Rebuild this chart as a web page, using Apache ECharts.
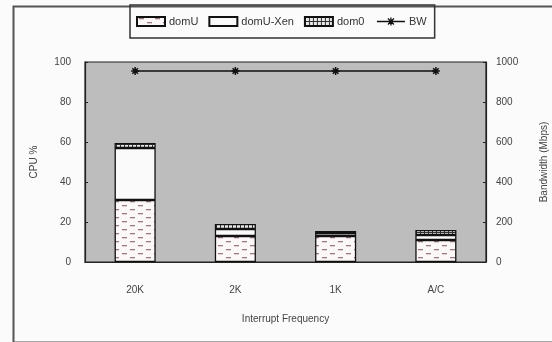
<!DOCTYPE html>
<html><head><meta charset="utf-8">
<script src="https://cdn.jsdelivr.net/npm/echarts@6/dist/echarts.min.js"></script>
<style>html,body{margin:0;padding:0;background:#fbfbfb}#c{width:552px;height:342px}</style>
</head><body><div id="c"></div>
<script>
var categories = ['20K', '2K', '1K', 'A/C'];
var domU = [31, 13, 13, 11];
var domUXen = [26, 3.5, 1.5, 2.5];
var dom0 = [2.5, 2.5, 1, 2.5];
var bw = [955, 955, 955, 955];
var cpuTicks = [0, 20, 40, 60, 80, 100];
var bwTicks = [0, 200, 400, 600, 800, 1000];

function dashPattern() {
  var c = document.createElement('canvas'); c.width = 16; c.height = 8;
  var g = c.getContext('2d');
  g.fillStyle = '#fdf8f8'; g.fillRect(0, 0, 16, 8);
  g.fillStyle = '#9a7a82';
  g.fillRect(2, 1, 5, 1.3);
  g.fillRect(10, 5, 5, 1.3);
  return c;
}
function gridPattern() {
  var c = document.createElement('canvas'); c.width = 4; c.height = 4;
  var g = c.getContext('2d');
  g.fillStyle = '#e8e8e8'; g.fillRect(0, 0, 4, 4);
  g.fillStyle = '#333';
  g.fillRect(0, 0, 4, 1);
  g.fillRect(0, 0, 1, 4);
  return c;
}

var chart = echarts.init(document.getElementById('c'), null, {renderer: 'canvas'});
var txt = {fontFamily: 'Liberation Sans, Arial, sans-serif', fontSize: 10, color: '#444'};
chart.setOption({
  animation: false,
  backgroundColor: '#fbfbfb',
  graphic: [{
    type: 'rect', left: 11, top: 4,
    shape: {width: 560, height: 336},
    style: {fill: 'none', stroke: '#555', lineWidth: 2}, z: -1
  }],
  legend: {
    left: 130, top: 5,
    padding: [10, 8, 10, 6],
    borderColor: '#333', borderWidth: 1.5,
    itemWidth: 28, itemHeight: 9, itemGap: 10,
    textStyle: {fontFamily: txt.fontFamily, fontSize: 11, color: '#333', padding: [0, 0, 0, -1]},
    data: [
      {name: 'domU', icon: 'rect'},
      {name: 'domU-Xen', icon: 'rect'},
      {name: 'dom0', icon: 'rect'},
      {name: 'BW', icon: 'path://M0,4.5L28,4.5M10,4.5L18,4.5M14,0.5L14,8.5M11,1.5L17,7.5M17,1.5L11,7.5',
       itemStyle: {color: 'none', borderColor: '#111', borderWidth: 1.3}}
    ]
  },
  grid: {left: 85, right: 66, top: 62, bottom: 80, outerBoundsMode: 'none', containLabel: false,
    show: true, backgroundColor: '#bdbdbd', borderColor: '#222', borderWidth: 1.2},
  xAxis: {
    type: 'category', data: categories,
    name: 'Interrupt Frequency', nameLocation: 'middle', nameGap: 52,
    nameTextStyle: txt,
    axisLine: {lineStyle: {color: '#222', width: 1.2}},
    axisTick: {inside: true, length: 4, lineStyle: {color: '#222'}},
    axisLabel: Object.assign({margin: 23}, txt)
  },
  yAxis: [{
    type: 'value', min: cpuTicks[0], max: cpuTicks[cpuTicks.length - 1], interval: 20,
    name: 'CPU %', nameLocation: 'middle', nameGap: 46, nameRotate: 90,
    nameTextStyle: txt,
    axisLine: {show: true, lineStyle: {color: '#222', width: 1.2}},
    axisTick: {show: true, length: 3, inside: true, lineStyle: {color: '#222'}},
    axisLabel: Object.assign({margin: 14}, txt),
    splitLine: {show: false}
  }, {
    type: 'value', min: bwTicks[0], max: bwTicks[bwTicks.length - 1], interval: 200,
    name: 'Bandwidth (Mbps)', nameLocation: 'middle', nameGap: 53, nameRotate: 90,
    nameTextStyle: txt,
    axisLine: {show: true, lineStyle: {color: '#222', width: 1.2}},
    axisTick: {show: true, length: 3, inside: true, lineStyle: {color: '#222'}},
    axisLabel: Object.assign({margin: 10, formatter: function (v) { return String(v); }}, txt),
    splitLine: {show: false}
  }],
  series: [{
    name: 'domU', type: 'bar', stack: 'cpu', data: domU, barWidth: '41%',
    itemStyle: {color: {image: dashPattern(), repeat: 'repeat'}, borderColor: '#111', borderWidth: 1.3}
  }, {
    name: 'domU-Xen', type: 'bar', stack: 'cpu', data: domUXen,
    itemStyle: {color: '#fafafa', borderColor: '#111', borderWidth: 1.3}
  }, {
    name: 'dom0', type: 'bar', stack: 'cpu', data: dom0,
    itemStyle: {color: {image: gridPattern(), repeat: 'repeat'}, borderColor: '#111', borderWidth: 1.3}
  }, {
    name: 'BW', type: 'line', yAxisIndex: 1, data: bw,
    symbol: 'path://M0,5L10,5M5,0L5,10M1.5,1.5L8.5,8.5M8.5,1.5L1.5,8.5', symbolSize: 8,
    lineStyle: {color: '#111', width: 1.5},
    itemStyle: {color: '#111', borderColor: '#111', borderWidth: 1.5}
  }]
});
</script></body></html>
